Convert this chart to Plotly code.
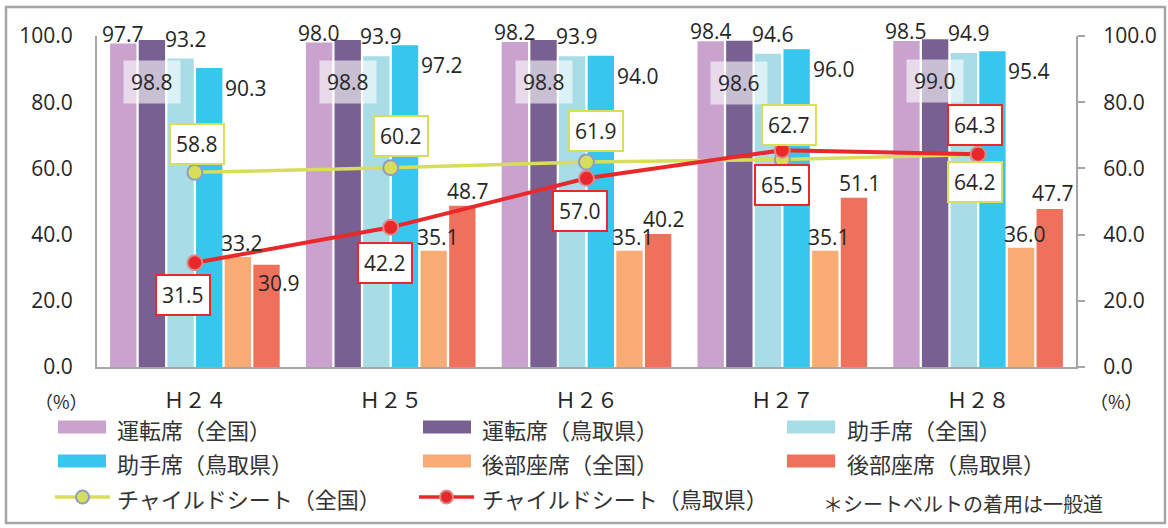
import plotly.graph_objects as go

# ---------------- data ----------------
categories = ["Ｈ２４", "Ｈ２５", "Ｈ２６", "Ｈ２７", "Ｈ２８"]
driver_nat = [97.7, 98.0, 98.2, 98.4, 98.5]
driver_tot = [98.8, 98.8, 98.8, 98.6, 99.0]
passenger_nat = [93.2, 93.9, 93.9, 94.6, 94.9]
passenger_tot = [90.3, 97.2, 94.0, 96.0, 95.4]
rear_nat = [33.2, 35.1, 35.1, 35.1, 36.0]
rear_tot = [30.9, 48.7, 40.2, 51.1, 47.7]
child_nat = [58.8, 60.2, 61.9, 62.7, 64.2]
child_tot = [31.5, 42.2, 57.0, 65.5, 64.3]
y_ticks = [0, 20, 40, 60, 80, 100]
names = ["運転席（全国）", "運転席（鳥取県）", "助手席（全国）", "助手席（鳥取県）",
         "後部座席（全国）", "後部座席（鳥取県）",
         "チャイルドシート（全国）", "チャイルドシート（鳥取県）"]
note_text = "＊シートベルトの着用は一般道"

# ---------------- style ----------------
W, H = 1168, 528
L, R, T, B = 97, 92, 36, 161
PW, PH = W - L - R, H - T - B
BARGAP, GROUPGAP = 0.122, 0.08
SLOT = PW / len(categories) * (1 - BARGAP) / 6

bar_colors = ["#C9A3CD", "#786092", "#A8DCE6", "#37C6EE", "#F8AC74", "#F0715B"]
yellow, yellow_edge = "#D6DE5A", "#8E9CC8"
red, red_edge = "#E8282A", "#D98A8A"
axis_col = "#A6A6A6"
txt_col = "#262626"
NUMFONT = "Open Sans"
JPFONT = "Noto Sans CJK JP"

bar_series = [driver_nat, driver_tot, passenger_nat, passenger_tot, rear_nat, rear_tot]

# label offsets (px): (dx, dy up) per series, per point
bar_label_off = [
    [(0, 10)] * 5,
    [(0, -42)] * 5,
    [(5, 20)] * 5,
    [(37, -20)] * 5,
    [(4, 14)] * 5,
    [(12, -18), (6, 15), (6, 15), (6, 15), (3, 16)],
]
yellow_off = [(2, 28), (10, 32), (9, 31), (7, 34), (-3, -27)]
red_off = [(-12, -32), (-6, -36), (-7, -33), (0, -35), (-3, 29)]


def px(x):
    return (x - L) / PW


def py(y):
    return (H - B - y) / PH


fig = go.Figure()
for i, (vals, col) in enumerate(zip(bar_series, bar_colors)):
    fig.add_trace(go.Bar(x=categories, y=vals, name=names[i], marker_color=col,
                         marker_line_width=0, showlegend=False))

fig.add_trace(go.Scatter(x=categories, y=child_nat, name=names[6], mode="lines+markers",
                         line=dict(color=yellow, width=3.5),
                         marker=dict(color=yellow, size=15, line=dict(color=yellow_edge, width=2)),
                         yaxis="y2", showlegend=False))
fig.add_trace(go.Scatter(x=categories, y=child_tot, name=names[7], mode="lines+markers",
                         line=dict(color=red, width=4),
                         marker=dict(color=red, size=15, line=dict(color=red_edge, width=2)),
                         yaxis="y2", showlegend=False))

ann = []
for i, vals in enumerate(bar_series):
    for j, v in enumerate(vals):
        dx, dy = bar_label_off[i][j]
        a = dict(x=categories[j], y=v, xref="x", yref="y", text=f"{v:.1f}", showarrow=False,
                 xanchor="center", yanchor="middle",
                 xshift=(i - 2.5) * SLOT + dx, yshift=dy,
                 font=dict(family=NUMFONT, size=21, color=txt_col))
        if i == 1:
            a.update(bgcolor="rgba(255,255,255,0.6)", borderpad=7)
        ann.append(a)

for vals, offs, bc in [(child_nat, yellow_off, yellow), (child_tot, red_off, red)]:
    for j, v in enumerate(vals):
        dx, dy = offs[j]
        ann.append(dict(x=categories[j], y=v, xref="x", yref="y", text=f"{v:.1f}", showarrow=False,
                        xanchor="center", yanchor="middle",
                        xshift=dx, yshift=dy, bgcolor="white", bordercolor=bc, borderwidth=2,
                        borderpad=5, font=dict(family=NUMFONT, size=21, color=txt_col)))


def paper_text(x, y, text, size, anchor="left", color="#333333"):
    ann.append(dict(x=px(x), y=py(y), xref="paper", yref="paper", text=text, showarrow=False,
                    xanchor=anchor, yanchor="middle", font=dict(family=JPFONT, size=size, color=color)))


# (%) labels
for xx in (61, 1116):
    paper_text(xx, 401, "（%）", 18, anchor="center", color=txt_col)

shapes = []
# outer border
shapes.append(dict(type="rect", xref="paper", yref="paper", x0=px(6), x1=px(1165), y0=py(523), y1=py(7),
                   line=dict(color=axis_col, width=2.5), fillcolor="rgba(0,0,0,0)", layer="below"))

# custom legend
col_sw = [58, 423, 787]
col_tx = [115, 480, 845]
rows = [427, 461, 497]
leg_items = [(0, 0, 0), (1, 0, 1), (2, 0, 2), (3, 1, 0), (4, 1, 1), (5, 1, 2)]
for si, r, c in leg_items:
    shapes.append(dict(type="rect", xref="paper", yref="paper", x0=px(col_sw[c]), x1=px(col_sw[c] + 48),
                       y0=py(rows[r] + 6.5), y1=py(rows[r] - 6.5), fillcolor=bar_colors[si], line=dict(width=0)))
    paper_text(col_tx[c], rows[r] + 2, names[si], 22)
for k, (lc, ec) in enumerate([(yellow, yellow_edge), (red, red_edge)]):
    x0 = [55, 419][k]
    yy = rows[2]
    shapes.append(dict(type="line", xref="paper", yref="paper", x0=px(x0), x1=px(x0 + 55), y0=py(yy), y1=py(yy),
                       line=dict(color=lc, width=3.5)))
    shapes.append(dict(type="circle", xref="paper", yref="paper", x0=px(x0 + 21), x1=px(x0 + 34),
                       y0=py(yy + 6.5), y1=py(yy - 6.5), fillcolor=lc, line=dict(color=ec, width=2)))
    paper_text(col_tx[k], yy + 1, names[6 + k], 22)
paper_text(821, 503, note_text, 20)

tick_text = [f"{v:.1f}" for v in y_ticks]
fig.update_layout(
    width=W, height=H, margin=dict(l=L, r=R, t=T, b=B, autoexpand=False),
    paper_bgcolor="white", plot_bgcolor="white",
    barmode="group", bargap=BARGAP, bargroupgap=GROUPGAP,
    showlegend=False,
    xaxis=dict(type="category", showline=True, linecolor=axis_col, linewidth=2, ticks="",
               showgrid=False, zeroline=False, ticklabelstandoff=14,
               tickfont=dict(family=JPFONT, size=21, color=txt_col)),
    yaxis=dict(range=[0, 100], tickvals=y_ticks, ticktext=tick_text, showline=True, linecolor=axis_col,
               linewidth=2, ticks="", showgrid=False, zeroline=False, ticklabelstandoff=18,
               tickfont=dict(family=NUMFONT, size=21, color=txt_col)),
    yaxis2=dict(range=[0, 100], tickvals=y_ticks, ticktext=tick_text, overlaying="y", side="right",
                showline=True, linecolor=axis_col, linewidth=2, ticks="outside", ticklen=7,
                tickcolor=axis_col, tickwidth=2, showgrid=False, zeroline=False, ticklabelstandoff=14,
                tickfont=dict(family=NUMFONT, size=21, color=txt_col)),
    annotations=ann, shapes=shapes,
)
fig.write_html("out.html")
